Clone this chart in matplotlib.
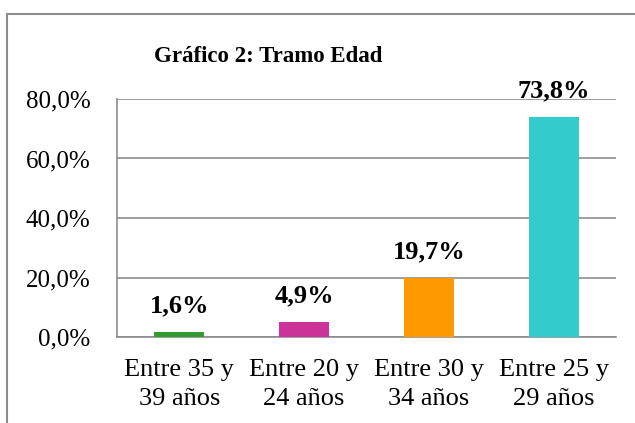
import numpy as np
import matplotlib.pyplot as plt
from matplotlib.lines import Line2D
from matplotlib.ticker import FuncFormatter

# Data
categories = ["Entre 35 y\n39 años", "Entre 20 y\n24 años", "Entre 30 y\n34 años", "Entre 25 y\n29 años"]
values = [1.6, 4.9, 19.7, 73.8]
value_labels = ["1,6%", "4,9%", "19,7%", "73,8%"]
bar_colors = ["#339933", "#CC3399", "#FF9900", "#33CCCC"]
yticks = [0, 20, 40, 60, 80]

plt.rcParams["font.family"] = ["Liberation Serif", "DejaVu Serif"]

W, H = 635, 423
fig = plt.figure(figsize=(W / 100, H / 100), dpi=100)
ax = fig.add_axes([117 / W, 1 - 337 / H, (616 - 117) / W, (337 - 99) / H])

x = np.arange(len(categories))
ax.bar(x, values, width=0.4, color=bar_colors, zorder=3)

for xi, v, lab in zip(x, values, value_labels):
    ax.annotate(lab, (xi, v), xytext=(0, 11), textcoords="offset points",
                ha="center", va="bottom", fontsize=19, fontweight="bold",
                clip_on=False, zorder=4)

ax.set_xlim(-0.5, len(categories) - 0.5)
ax.set_ylim(0, 80)
ax.set_yticks(yticks)
ax.yaxis.set_major_formatter(FuncFormatter(lambda v, p: f"{v:.1f}".replace(".", ",") + "%"))
ax.set_xticks(x)
ax.set_xticklabels(categories, fontsize=19, linespacing=1.42)
ax.tick_params(axis="y", length=0, pad=19, labelsize=18)
ax.tick_params(axis="x", length=0, pad=16)

ax.grid(axis="y", color="#8c8c8c", lw=1.2, zorder=1)
for s in ["top", "right"]:
    ax.spines[s].set_visible(False)
ax.spines["left"].set_color("#8c8c8c")
ax.spines["left"].set_linewidth(1.2)
ax.spines["bottom"].set_color("#8c8c8c")
ax.spines["bottom"].set_linewidth(1.2)

fig.text(268 / W, 1 - 56 / H, "Gráfico 2: Tramo Edad", ha="center", va="center",
         fontsize=16.5, fontweight="bold")

# outer chart frame
fig.add_artist(Line2D([6.5 / W, 6.5 / W], [0, 1 - 14.5 / H], transform=fig.transFigure,
                      color="#8c8c8c", lw=1.5))
fig.add_artist(Line2D([6.5 / W, 1], [1 - 14.5 / H, 1 - 14.5 / H], transform=fig.transFigure,
                      color="#8c8c8c", lw=1.5))

fig.savefig("out.png", dpi=100)
